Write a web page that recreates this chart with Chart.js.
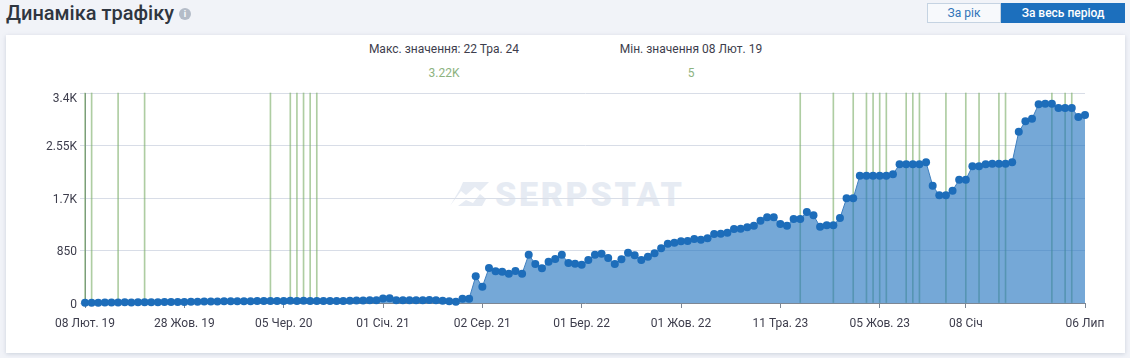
<!DOCTYPE html>
<html lang="uk">
<head>
<meta charset="utf-8">
<title>Динаміка трафіку</title>
<script src="https://cdn.jsdelivr.net/npm/chart.js@4"></script>
<style>
    body { margin: 0; width: 1130px; height: 358px; background: #f1f3f8; font-family: Roboto, sans-serif; overflow: hidden; position: relative; }
    h1 { position: absolute; left: 6px; top: 0; margin: 0; font-size: 20px; line-height: 27px; font-weight: 500; color: #2f3640; }
    .info { position: absolute; left: 179px; top: 8px; width: 12px; height: 12px; border-radius: 50%; background: #b4bcc8; color: #fff; font-size: 9px; line-height: 12px; text-align: center; font-weight: 700; }
    .btn { position: absolute; top: 3px; height: 20px; line-height: 20px; font-size: 12px; text-align: center; box-sizing: border-box; }
    .btn-year { left: 927px; width: 74px; background: #f7f9fc; color: #2f74b8; border: 1px solid #c5d3e2; line-height: 18px; }
    .btn-all { left: 1001px; width: 124px; background: #1c6fbd; color: #fff; font-weight: 500; }
    .card { position: absolute; left: 6px; top: 35px; width: 1119px; height: 318px; background: #fff; box-shadow: 0 1px 4px rgba(120,135,160,0.3); }
    .stat { position: absolute; font-size: 12px; line-height: 14px; color: #3d3d4c; white-space: nowrap; transform: translateX(-50%); }
    .stat.num { color: #8db37f; }
    .mark { position: absolute; left: 450px; top: 180px; width: 240px; height: 30px; }
    .mark svg { position: absolute; left: 0; top: 1px; }
    .mark span { position: absolute; left: 45px; top: -3px; font: 900 34px/34px Roboto, sans-serif; letter-spacing: 2.7px; color: #e6ebf3; }
    canvas { position: absolute; left: 0; top: 0; }
</style>
</head>
<body>
<h1>Динаміка трафіку</h1>
<div class="info">i</div>
<div class="btn btn-year">За рік</div>
<div class="btn btn-all">За весь період</div>
<div class="card"></div>
<div class="stat" style="left:444px;top:42px">Макс. значення: 22 Тра. 24</div>
<div class="stat num" style="left:444px;top:66px">3.22K</div>
<div class="stat" style="left:691px;top:42px">Мін. значення 08 Лют. 19</div>
<div class="stat num" style="left:691px;top:66px">5</div>
<div class="mark">
    <svg width="40" height="26" viewBox="0 0 40 26"><path d="M13 1H39L30 10L25 6L16 14L11 10L0 25H8L16 19L23 22L30 13L36 18L32 25H0L10 8Z" fill="#e6ebf3"/></svg>
    <span>SERPSTAT</span>
</div>
<canvas id="traffic-chart" width="1130" height="358"></canvas>

<script>
// Traffic per report, one value every update
const trafficValues = [
    5, 6, 6, 8, 9, 10, 12, 10, 12, 14,
    14, 14, 16, 16, 18, 18, 20, 22, 24, 26,
    26, 28, 28, 30, 30, 30, 32, 32, 34, 34,
    34, 36, 34, 36, 34, 34, 34, 32, 32, 34,
    38, 40, 40, 44, 46, 72, 76, 44, 44, 46,
    46, 46, 48, 46, 38, 27, 22, 70, 70, 432,
    264, 567, 513, 507, 475, 518, 475, 783, 631, 561,
    669, 712, 783, 648, 637, 621, 696, 783, 799, 729,
    631, 707, 815, 772, 696, 750, 804, 885, 961, 977,
    998, 1004, 1036, 1025, 1047, 1117, 1122, 1139, 1198, 1203,
    1225, 1252, 1333, 1387, 1387, 1279, 1252, 1360, 1360, 1473,
    1419, 1236, 1257, 1257, 1376, 1695, 1695, 2062, 2062, 2062,
    2062, 2062, 2083, 2245, 2245, 2245, 2245, 2278, 1900, 1743,
    1743, 1819, 1997, 1997, 2213, 2213, 2245, 2256, 2256, 2256,
    2278, 2774, 2941, 2985, 3217, 3227, 3227, 3157, 3157, 3157,
    3012, 3044
];

// Reports where a search engine update is marked with a green line
const updateIndexes = [0, 1, 5, 9, 28, 31, 32, 33, 34, 35, 108, 113, 116, 118, 119, 120, 121, 124, 125, 126, 130, 133, 135, 138, 139, 146, 148, 149];

// Axis ticks
const xTickIndexes = [0, 15, 30, 45, 60, 75, 90, 105, 120, 133, 151];
const xTickLabels = ['08 Лют. 19', '28 Жов. 19', '05 Чер. 20', '01 Січ. 21', '02 Сер. 21', '01 Бер. 22', '01 Жов. 22', '11 Тра. 23', '05 Жов. 23', '08 Січ', '06 Лип'];
const yTickValues = [0, 850, 1700, 2550, 3400];
const yTickLabels = ['0', '850', '1.7K', '2.55K', '3.4K'];

const categories = trafficValues.map((value, index) => index);
const updateBars = categories.map(index => updateIndexes.includes(index) ? 3400 : null);

const ctx = document.getElementById('traffic-chart').getContext('2d');
new Chart(ctx, {
    type: 'line',
    data: {
        labels: categories,
        datasets: [
            {
                label: 'Трафік',
                data: trafficValues,
                order: 1,
                clip: false,
                tension: 0,
                fill: 'origin',
                backgroundColor: 'rgba(33, 114, 190, 0.62)',
                borderColor: '#3f7fbf',
                borderWidth: 1,
                pointRadius: 4,
                pointBackgroundColor: '#1d6dba',
                pointBorderColor: '#1d6dba',
                pointBorderWidth: 0
            },
            {
                type: 'bar',
                label: 'Оновлення',
                data: updateBars,
                order: 2,
                clip: false,
                barThickness: 1,
                backgroundColor: 'rgba(125, 175, 105, 0.62)'
            }
        ]
    },
    options: {
        responsive: false,
        animation: false,
        layout: { padding: { top: 93, right: 45 } },
        plugins: { legend: { display: false } },
        scales: {
            x: {
                type: 'category',
                offset: false,
                afterFit: scale => { scale.height = 55; },
                afterBuildTicks: scale => {
                    scale.ticks = xTickIndexes.map(index => ({ value: index }));
                },
                grid: { offset: false, drawOnChartArea: false, tickLength: 5, color: '#7d8794' },
                border: { color: '#7d8794' },
                ticks: {
                    autoSkip: false,
                    maxRotation: 0,
                    padding: 9,
                    color: '#3d3d4c',
                    font: { family: 'Roboto', size: 12 },
                    callback: value => xTickLabels[xTickIndexes.indexOf(value)]
                }
            },
            y: {
                min: 0,
                max: 3400,
                afterFit: scale => { scale.width = 85; },
                afterBuildTicks: scale => {
                    scale.ticks = yTickValues.map(value => ({ value: value }));
                },
                grid: { color: '#d8dde7', tickLength: 5 },
                border: { color: '#7d8794' },
                ticks: {
                    padding: 3,
                    color: '#3d3d4c',
                    // an empty first line pushes each label down; the top one sits well under its grid line
                    font: context => ({ family: 'Roboto', size: 12, lineHeight: context.index === 4 ? 1 : 0.25 }),
                    callback: value => ['', yTickLabels[yTickValues.indexOf(value)]]
                }
            }
        }
    }
});
</script>
</body>
</html>
